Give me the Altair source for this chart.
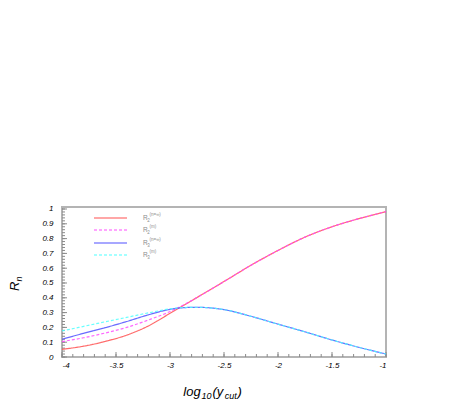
import altair as alt
import pandas as pd

# ---- data ----
x_vals = [-4.0, -3.8, -3.6, -3.4, -3.2, -3.0, -2.9, -2.75, -2.5, -2.25, -2.0, -1.75, -1.5, -1.25, -1.0]
r2_inf = [0.052, 0.073, 0.105, 0.148, 0.21, 0.295, 0.338, 0.402, 0.51, 0.62, 0.72, 0.81, 0.88, 0.935, 0.982]
r2_m = [0.104, 0.13, 0.162, 0.2, 0.25, 0.307, 0.342, 0.402, 0.51, 0.62, 0.72, 0.81, 0.88, 0.935, 0.982]
r3_inf = [0.12, 0.16, 0.198, 0.24, 0.285, 0.322, 0.332, 0.336, 0.32, 0.275, 0.222, 0.17, 0.115, 0.065, 0.02]
r3_m = [0.176, 0.207, 0.238, 0.268, 0.298, 0.325, 0.333, 0.336, 0.32, 0.275, 0.222, 0.17, 0.115, 0.065, 0.02]

series_names = ["R2 (n=inf)", "R2 (m)", "R3 (n=inf)", "R3 (m)"]
series_values = [r2_inf, r2_m, r3_inf, r3_m]
series_colors = ["#ff5050", "#ff4dff", "#5050ff", "#4dffff"]
series_dash = [[1, 0], [3, 2], [1, 0], [3, 2]]
legend_sub = ["2", "2", "3", "3"]
legend_sup = ["(n=\u221e)", "(m)", "(n=\u221e)", "(m)"]

x_major = [-4.0, -3.5, -3.0, -2.5, -2.0, -1.5, -1.0]
x_minor = [round(-4.0 + 0.1 * i, 1) for i in range(31)]
y_major = [round(0.1 * i, 1) for i in range(11)]
y_minor = [round(0.02 * i, 2) for i in range(51)]

x_title_parts = ["log", "10", "(y", "cut", ")"]
y_title_parts = ["R", "n"]

# ---- layout ----
W, H = 324, 150
XD = [-4.0, -1.0]
YD = [0.0, 1.0135]
FONT = "Liberation Sans"
xs = alt.Scale(domain=XD, nice=False, zero=False)
ys = alt.Scale(domain=YD, nice=False, zero=False)
one = alt.Data(values=[{"a": 1}])

ax_x = alt.Axis(values=x_major, title=None, ticks=False, domain=False, grid=False,
                labelFont=FONT, labelFontStyle="italic", labelFontSize=8, labelColor="#000",
                labelPadding=4, labelOverlap=False, labelExpr="'' + datum.value")
ax_y = alt.Axis(values=y_major, title=None, ticks=False, domain=False, grid=False,
                labelFont=FONT, labelFontStyle="italic", labelFontSize=8, labelColor="#000",
                labelPadding=9, labelOverlap=False, labelExpr="format(datum.value, '.1~f')")

layers = []

# inward tick marks
tick_col = "#8a8a8a"
for vals, ln in ((y_minor, 3), (y_major, 5)):
    layers.append(alt.Chart(pd.DataFrame({"v": vals})).mark_rule(color=tick_col, strokeWidth=1).encode(
        y=alt.Y("v:Q", scale=ys, axis=ax_y), x=alt.value(0), x2=alt.value(ln)))
for vals, ln in ((x_minor, 3), (x_major, 5)):
    layers.append(alt.Chart(pd.DataFrame({"v": vals})).mark_rule(color=tick_col, strokeWidth=1).encode(
        x=alt.X("v:Q", scale=xs, axis=ax_x), y=alt.value(H), y2=alt.value(H - ln)))

# curves
for name, vals, col, dash in zip(series_names, series_values, series_colors, series_dash):
    df = pd.DataFrame({"x": x_vals, "y": vals, "s": name})
    layers.append(alt.Chart(df).mark_line(color=col, strokeWidth=1.2, strokeDash=dash,
                                          interpolate="monotone", opacity=0.85).encode(
        x=alt.X("x:Q", scale=xs, axis=ax_x), y=alt.Y("y:Q", scale=ys, axis=ax_y)))

# legend (drawn inside the frame)
leg_y = [11, 23, 36, 48]
leg_col = "#8c8c8c"
for ly, col, dash, sub, sup in zip(leg_y, series_colors, series_dash, legend_sub, legend_sup):
    layers.append(alt.Chart(one).mark_rule(color=col, strokeWidth=1.2, strokeDash=dash).encode(
        x=alt.value(32), x2=alt.value(65), y=alt.value(ly)))
    layers.append(alt.Chart(one).mark_text(font=FONT, fontSize=6.5, color=leg_col, align="left",
                                           baseline="alphabetic").encode(
        x=alt.value(81), y=alt.value(ly + 2), text=alt.value("R")))
    layers.append(alt.Chart(one).mark_text(font=FONT, fontSize=4.5, color=leg_col, align="left",
                                           baseline="alphabetic").encode(
        x=alt.value(85.2), y=alt.value(ly + 3.5), text=alt.value(sub)))
    layers.append(alt.Chart(one).mark_text(font=FONT, fontSize=4.5, color=leg_col, align="left",
                                           baseline="alphabetic").encode(
        x=alt.value(87.5), y=alt.value(ly - 2.5), text=alt.value(sup)))

# x title: log_10(y_cut)
xt_x = [121.3, 139.5, 150.5, 162.8, 175.5]
xt_y = [189, 192, 189, 192, 189]
xt_s = [13, 9, 13, 9, 13]
for t, px, py, fs in zip(x_title_parts, xt_x, xt_y, xt_s):
    layers.append(alt.Chart(one).mark_text(font=FONT, fontStyle="italic", fontSize=fs, color="#000",
                                           align="left", baseline="alphabetic").encode(
        x=alt.value(px), y=alt.value(py), text=alt.value(t)))

# y title: R_n (rotated)
layers.append(alt.Chart(one).mark_text(font=FONT, fontStyle="italic", fontSize=13, color="#000",
                                       align="left", baseline="alphabetic", angle=270).encode(
    x=alt.value(-43), y=alt.value(84), text=alt.value(y_title_parts[0])))
layers.append(alt.Chart(one).mark_text(font=FONT, fontStyle="italic", fontSize=9, color="#000",
                                       align="left", baseline="alphabetic", angle=270).encode(
    x=alt.value(-40.5), y=alt.value(74.5), text=alt.value(y_title_parts[1])))

chart = alt.layer(*layers).properties(
    width=W, height=H,
    autosize=alt.AutoSizeParams(type="none"),
    padding={"left": 54, "top": 199, "right": 60, "bottom": 45},
    background="white",
).configure_view(stroke="#b4b4b4", strokeWidth=2)

chart.save("out.html", embed_options={"renderer": "svg", "actions": False})
